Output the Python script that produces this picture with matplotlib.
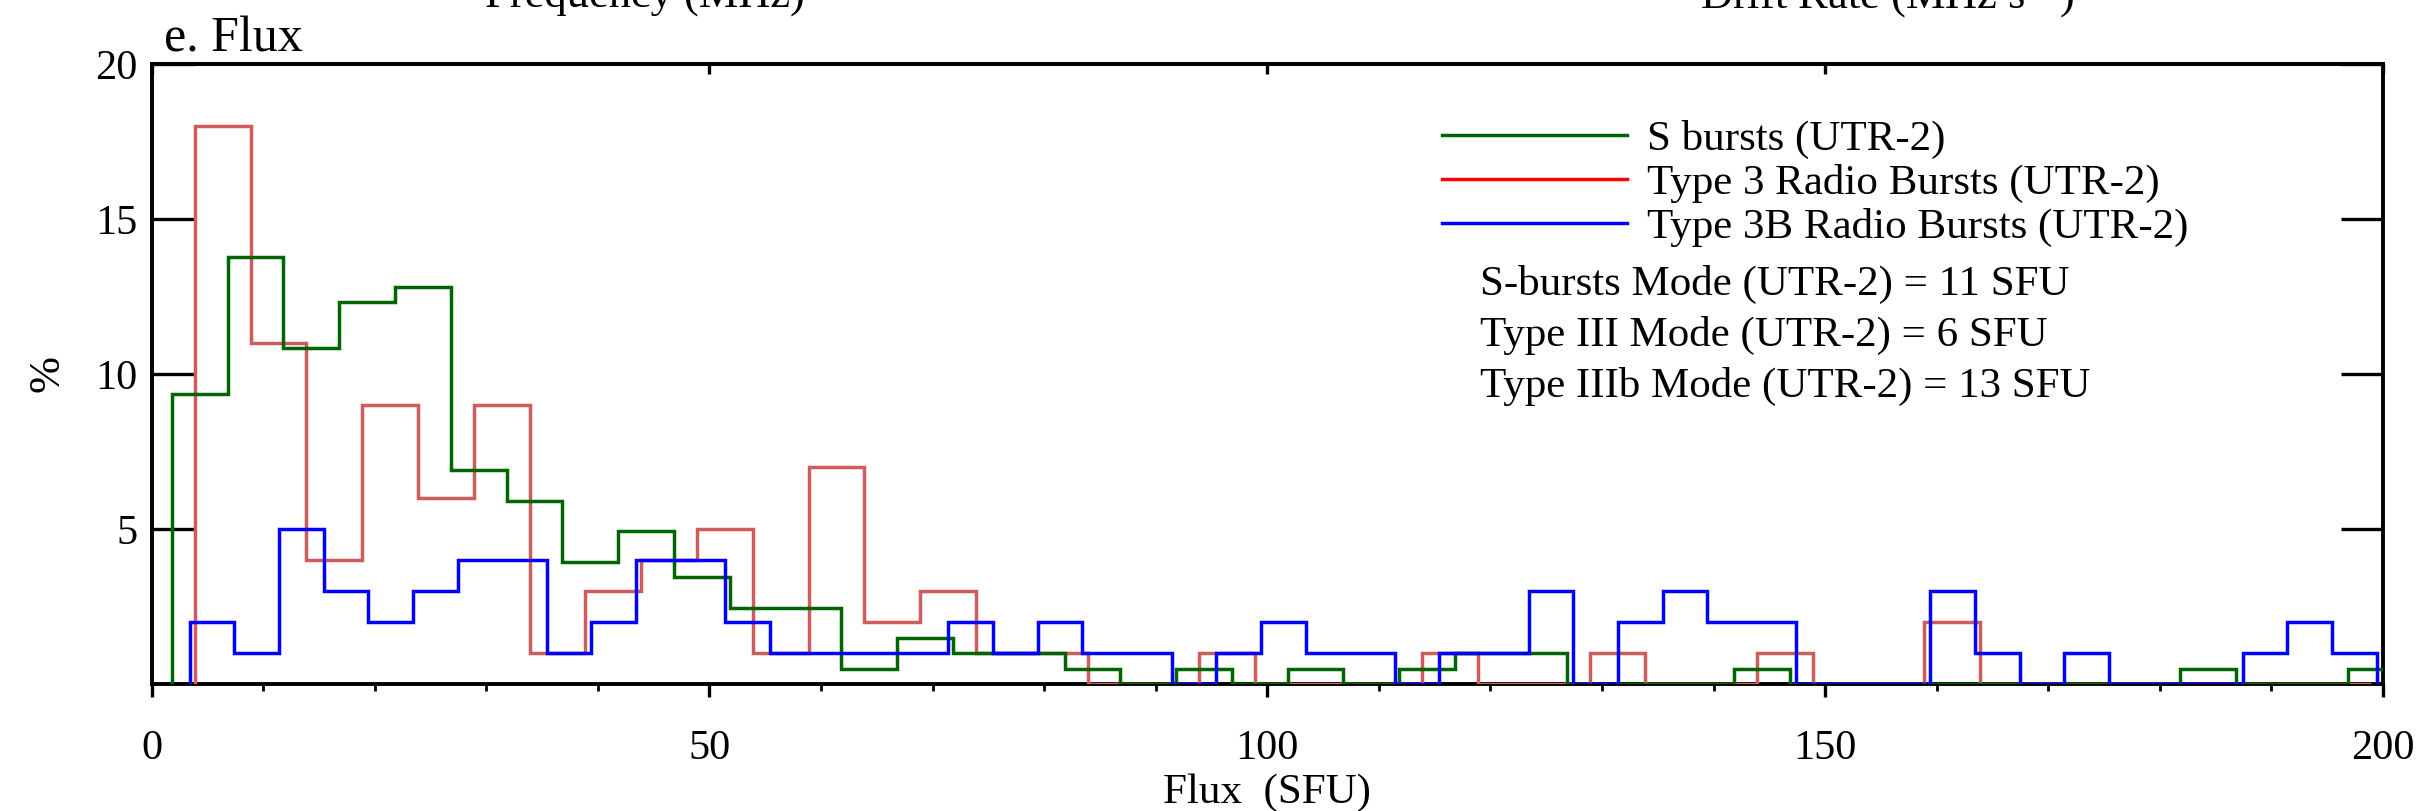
import numpy as np
import matplotlib
matplotlib.use("Agg")
import matplotlib.pyplot as plt
from matplotlib.lines import Line2D

plt.rcParams['font.family'] = ['Liberation Serif', 'DejaVu Serif']
plt.rcParams['mathtext.fontset'] = 'custom'
plt.rcParams['mathtext.rm'] = 'Liberation Serif'
plt.rcParams['mathtext.it'] = 'Liberation Serif:italic'

# ---------------- data (percent per bin) ----------------
# S bursts (UTR-2): bins start at 1.83 SFU, width 5 SFU
s_start, s_width = 1.83, 5.0
s_bursts_pct = [9.36, 13.79, 10.84, 12.32, 12.81, 6.90, 5.91, 3.94, 4.93, 3.45,
                2.46, 2.46, 0.49, 1.48, 0.99, 0.99, 0.49, 0.0, 0.49, 0.0,
                0.49, 0.0, 0.49, 0.99, 0.99, 0.0, 0.0, 0.0, 0.49, 0.0,
                0.0, 0.0, 0.0, 0.0, 0.0, 0.0, 0.49, 0.0, 0.0, 0.49]

# Type 3 radio bursts (UTR-2): bins start at 3.89 SFU, width 5 SFU
t3_start, t3_width = 3.89, 5.0
type3_pct = [18, 11, 4, 9, 6, 9, 1, 3, 4, 5,
             1, 7, 2, 3, 1, 1, 0, 0, 1, 0,
             0, 0, 1, 0, 0, 1, 0, 0, 1, 0,
             0, 2, 0, 0, 0, 0, 0, 0, 0]

# Type 3B radio bursts (UTR-2): bins start at 3.43 SFU, width 4 SFU
t3b_start, t3b_width = 3.43, 4.0
type3b_pct = [2, 1, 5, 3, 2, 3, 4, 4, 1, 2,
              4, 4, 2, 1, 1, 1, 1, 2, 1, 2,
              1, 1, 0, 1, 2, 1, 1, 0, 1, 1,
              3, 0, 2, 3, 2, 2, 0, 0, 0, 3,
              1, 0, 1, 0, 0, 0, 1, 2, 1]

legend_labels = ["S bursts (UTR-2)", "Type 3 Radio Bursts (UTR-2)",
                 "Type 3B Radio Bursts (UTR-2)"]
mode_texts = ["S-bursts Mode (UTR-2) = 11 SFU",
              "Type III Mode (UTR-2) = 6 SFU",
              "Type IIIb Mode (UTR-2) = 13 SFU"]
x_ticks = [0, 50, 100, 150, 200]
y_ticks = [5, 10, 15, 20]


def edges(start, width, n):
    return start + width * np.arange(n + 1)


W, H = 2419, 811
fig = plt.figure(figsize=(W / 100, H / 100), dpi=100)
L, R, B, T = 151.5, 2383, 684, 64
ax = fig.add_axes([L / W, 1 - B / H, (R - L) / W, (B - T) / H])

lw_hist = 2.5
ax.stairs(type3_pct, edges(t3_start, t3_width, len(type3_pct)), baseline=0,
          color='#cd5c5c', lw=lw_hist, zorder=3)
ax.stairs(s_bursts_pct, edges(s_start, s_width, len(s_bursts_pct)), baseline=0,
          color='#006400', lw=lw_hist, zorder=3.1)
ax.stairs(type3b_pct, edges(t3b_start, t3b_width, len(type3b_pct)), baseline=0,
          color='#0000ff', lw=lw_hist, zorder=3.2)

ax.set_xlim(0, 200)
ax.set_ylim(0, 20)

for s in ax.spines.values():
    s.set_linewidth(2.8)

ax.set_xticks(x_ticks)
ax.set_xticks(np.arange(0, 201, 10), minor=True)
ax.tick_params(axis='x', which='major', direction='out', length=9.5, width=2.4,
               top=False, labelsize=30.5, pad=23)
ax.tick_params(axis='x', which='minor', direction='out', length=5, width=2.0,
               top=False)
ax.set_yticks(y_ticks)
ax.tick_params(axis='y', which='major', direction='in', length=30, width=2.4,
               left=True, right=True, labelsize=30.5, pad=10)
ax.tick_params(axis='y', which='minor', left=False, right=False)

secax = ax.secondary_xaxis('top')
secax.set_xticks(x_ticks)
secax.tick_params(direction='in', length=7, width=2.4, labeltop=False)
secax.spines['top'].set_linewidth(2.8)

ax.set_xlabel('Flux  (SFU)', fontsize=31)
ax.xaxis.set_label_coords(0.5, (B - 773) / (B - T))
fig.text(47 / W, 1 - 373 / H, '%', rotation=90, ha='center', va='center',
         fontsize=32)

ax.text(12 / (R - L), (B - 51.7) / (B - T), 'e. Flux', transform=ax.transAxes,
        ha='left', va='baseline', fontsize=36)

# clipped labels of the panels above
fig.text(645 / W, 1 - 8 / H, 'Frequency (MHz)', ha='center', va='baseline',
         fontsize=32)
fig.text(1887 / W, 1 - 8 / H, r'Drift Rate (MHz s$^{-1}$)', ha='center',
         va='baseline', fontsize=32)

handles = [Line2D([], [], color='#006400', lw=2.5),
           Line2D([], [], color='#ff0000', lw=2.5),
           Line2D([], [], color='#0000ff', lw=2.5)]
fs_leg = 31
ax.legend(handles, legend_labels, loc='upper left',
          bbox_to_anchor=((1442 - L) / (R - L), (B - 120) / (B - T)),
          frameon=False, borderpad=0, borderaxespad=0, fontsize=fs_leg,
          handlelength=4.3, handletextpad=0.45, labelspacing=0.11)

for txt, yb in zip(mode_texts, [295, 345.6, 397]):
    ax.text((1479.6 - L) / (R - L), (B - yb) / (B - T), txt,
            transform=ax.transAxes, ha='left', va='baseline', fontsize=31)

fig.savefig('out.png', dpi=100)
